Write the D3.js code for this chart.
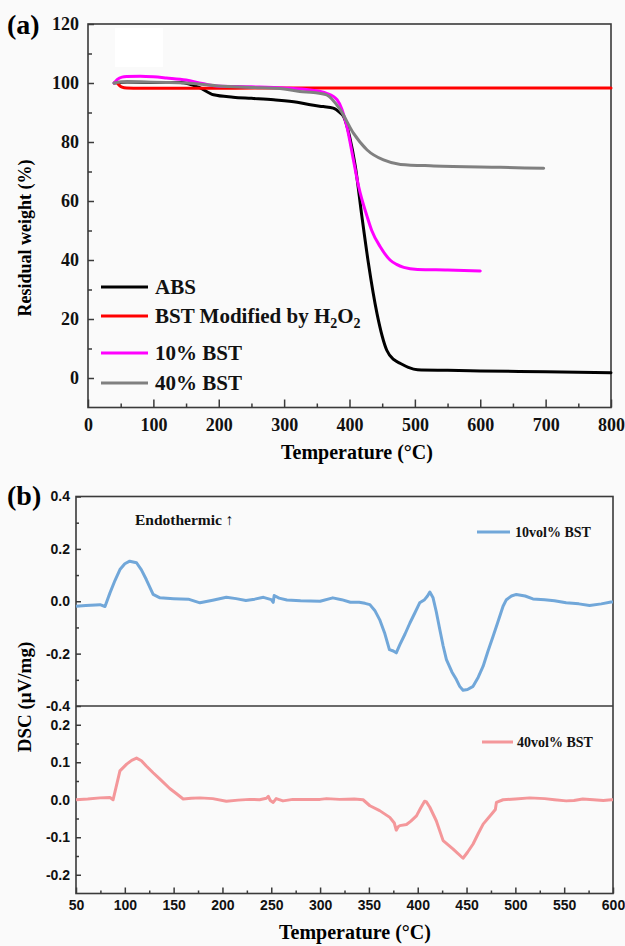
<!DOCTYPE html>
<html>
<head>
<meta charset="utf-8">
<script src="https://cdn.jsdelivr.net/npm/d3@7"></script>
<style>
  html, body { margin: 0; padding: 0; background: #fafafa; }
  svg { display: block; }
  .serif { font-family: "Liberation Serif", "Times New Roman", serif; font-weight: bold; }
  .sans { font-family: "Liberation Sans", Arial, sans-serif; font-weight: bold; }
</style>
</head>
<body>
<svg id="fig" width="625" height="946"></svg>
<script>
// ---------- (a) TGA curves: temperature (°C) vs residual weight (%) ----------
const tgaNames = ["ABS", "BST Modified by H2O2", "10% BST", "40% BST"];
const tgaColors = ["#000000", "#ff0000", "#ff00ff", "#808080"];

const absT = [40, 60, 100, 141, 170, 192, 222, 250, 284, 320, 340, 360, 375, 385, 391, 400, 409, 419, 429, 442, 457, 468, 478, 490, 504, 550, 600, 700, 800];
const absW = [100, 100.3, 100.2, 100.2, 98.5, 96, 95.2, 94.8, 94.3, 93.5, 92.6, 92, 91.5, 90, 88.6, 82, 71.6, 54.7, 38.8, 21.9, 9.4, 6.2, 4.9, 3.6, 2.8, 2.6, 2.4, 2.1, 1.8];

const bstT = [45, 48, 52, 59, 80, 150, 300, 500, 700, 800];
const bstW = [100, 99.2, 98.6, 98.3, 98.2, 98.2, 98.3, 98.3, 98.3, 98.3];

const b10T = [40, 45, 52, 59, 80, 100, 120, 150, 175, 197, 250, 300, 340, 365, 381, 396, 406, 414, 427, 434, 447, 462, 472, 483, 504, 550, 600];
const b10W = [100, 101.2, 102, 102.2, 102.3, 102.1, 101.7, 101, 99.8, 99, 98.7, 98.3, 97.6, 96.5, 94.3, 85.2, 73.9, 64.9, 54.7, 50, 44.5, 40, 38.5, 37.5, 36.8, 36.6, 36.3];

const b40T = [40, 50, 80, 120, 150, 200, 250, 300, 324, 345, 365, 386, 406, 427, 452, 478, 529, 631, 697];
const b40W = [100, 100.3, 100.3, 100.2, 100, 99, 98.5, 98, 97.1, 96.8, 96, 90.9, 83, 77.3, 73.9, 72.4, 71.9, 71.4, 71.1];

const tgaSeries = [
  { t: absT, w: absW },
  { t: bstT, w: bstW },
  { t: b10T, w: b10W },
  { t: b40T, w: b40W }
];

const tgaXTicks = [0, 100, 200, 300, 400, 500, 600, 700, 800];
const tgaYTicks = [0, 20, 40, 60, 80, 100, 120];

// ---------- (b) DSC curves: temperature (°C) vs heat flow (µV/mg) ----------
const dsc10T = [50, 60, 70, 74.6, 79.7, 84.8, 90, 95, 100, 105, 112, 117, 122, 129, 136, 150, 165, 177, 190, 204, 214, 224, 233, 242, 250, 252, 253, 258, 266, 280, 300, 313, 322, 331, 340, 346, 351, 356, 361, 366, 371, 375, 378, 381.7, 387, 392, 397, 402, 407, 410, 412.4, 415.7, 419, 422.6, 426, 429.4, 435, 439.6, 443, 446.4, 451, 456.7, 462, 467, 472, 477.2, 482, 487.4, 490.8, 496, 501, 510, 518, 530, 540, 552, 565, 576, 588, 598, 600];
const dsc10V = [-0.019, -0.016, -0.014, -0.013, -0.02, 0.032, 0.08, 0.121, 0.143, 0.153, 0.147, 0.12, 0.083, 0.026, 0.013, 0.01, 0.008, -0.006, 0.004, 0.015, 0.01, 0.003, 0.008, 0.015, 0.006, -0.004, 0.022, 0.012, 0.005, 0.002, 0.0, 0.013, 0.006, -0.004, -0.004, -0.008, -0.013, -0.035, -0.07, -0.12, -0.185, -0.19, -0.197, -0.166, -0.125, -0.083, -0.045, -0.006, 0.006, 0.02, 0.035, 0.013, -0.04, -0.108, -0.17, -0.223, -0.27, -0.299, -0.325, -0.34, -0.337, -0.325, -0.29, -0.248, -0.19, -0.134, -0.08, -0.019, 0.006, 0.02, 0.026, 0.02, 0.009, 0.006, 0.002, -0.006, -0.01, -0.016, -0.01, -0.003, -0.003];

const dsc40T = [50, 62, 74.6, 84.8, 88, 95, 101.9, 107, 112, 117, 122, 129, 136, 146, 153, 159.8, 168, 177, 190, 204, 216, 228, 238, 245, 247, 249, 252, 255, 262, 272, 285, 300, 306.6, 320, 335, 344, 351, 361, 371.4, 376, 378, 380, 381.7, 388.5, 393, 398.7, 403, 407, 409, 412.4, 419, 426, 436, 446.4, 451, 456.7, 462, 467, 477, 479.5, 480.6, 487.4, 500, 514.7, 530, 540, 552, 560, 569, 580, 590, 598.4, 600];
const dsc40V = [0.0, 0.002, 0.005, 0.006, 0.0, 0.077, 0.095, 0.105, 0.111, 0.104, 0.09, 0.072, 0.055, 0.03, 0.016, 0.002, 0.004, 0.005, 0.003, -0.004, -0.001, 0.001, 0.0, 0.004, 0.009, -0.002, -0.007, 0.003, -0.003, 0.001, 0.001, 0.001, 0.003, 0.001, 0.002, 0.0, -0.016, -0.029, -0.047, -0.062, -0.081, -0.072, -0.069, -0.066, -0.057, -0.043, -0.022, -0.004, -0.006, -0.02, -0.056, -0.109, -0.131, -0.156, -0.14, -0.118, -0.09, -0.065, -0.034, -0.026, -0.007, 0.0, 0.002, 0.005, 0.003, 0.0, -0.003, -0.002, 0.002, 0.0, -0.002, 0.0, 0.0];

const dscNames = ["10vol% BST", "40vol% BST"];
const dscColors = ["#71a7d9", "#f4979a"];
const dscXTicks = [50, 100, 150, 200, 250, 300, 350, 400, 450, 500, 550, 600];
const dsc10YTicks = [-0.4, -0.2, 0.0, 0.2, 0.4];
const dsc40YTicks = [-0.2, -0.1, 0.0, 0.1, 0.2];

// ---------- drawing ----------
const svg = d3.select("#fig");
const frameColor = "#3a3a3a";

// inward tick marks with labels on the outside
function styleAxis(g, fontClass, fontSize) {
  g.selectAll(".domain").remove();
  g.selectAll(".tick line").attr("stroke", frameColor).attr("stroke-width", 1.5);
  g.selectAll(".tick text").attr("class", fontClass).attr("font-size", fontSize).attr("fill", "#111");
}

// ===== Panel (a) =====
const A = { left: 88, right: 611, top: 24, bottom: 407.5 };
const xA = d3.scaleLinear().domain([0, 800]).range([A.left, A.right]);
const yA = d3.scaleLinear().domain([-10, 120]).range([A.bottom, A.top]);

// small bright patch near the top-left of the plot area
svg.append("rect").attr("x", 115).attr("y", 28).attr("width", 48).attr("height", 39).attr("fill", "#ffffff");

// major/minor ticks
const axXA = svg.append("g").attr("transform", `translate(0,${A.bottom})`)
  .call(d3.axisBottom(xA).tickValues(tgaXTicks).tickFormat(d3.format("d")).tickSizeInner(-8).tickSizeOuter(0).tickPadding(11));
styleAxis(axXA, "serif", 18);
const axXAm = svg.append("g").attr("transform", `translate(0,${A.bottom})`)
  .call(d3.axisBottom(xA).tickValues(d3.range(50, 800, 100)).tickFormat("").tickSizeInner(-4).tickSizeOuter(0));
styleAxis(axXAm, "serif", 18);

const axYA = svg.append("g").attr("transform", `translate(${A.left},0)`)
  .call(d3.axisLeft(yA).tickValues(tgaYTicks).tickFormat(d3.format("d")).tickSizeInner(-6).tickSizeOuter(0).tickPadding(9));
styleAxis(axYA, "serif", 18);
const axYAm = svg.append("g").attr("transform", `translate(${A.left},0)`)
  .call(d3.axisLeft(yA).tickValues(d3.range(10, 120, 20)).tickFormat("").tickSizeInner(-4).tickSizeOuter(0));
styleAxis(axYAm, "serif", 18);

svg.append("rect").attr("x", A.left).attr("y", A.top)
  .attr("width", A.right - A.left).attr("height", A.bottom - A.top)
  .attr("fill", "none").attr("stroke", frameColor).attr("stroke-width", 1.6);

const lineA = d3.line().curve(d3.curveMonotoneX);
tgaSeries.forEach((s, i) => {
  const pts = s.t.map((t, j) => [xA(t), yA(s.w[j])]);
  svg.append("path").attr("d", lineA(pts)).attr("fill", "none")
    .attr("stroke", tgaColors[i]).attr("stroke-width", 3).attr("stroke-linejoin", "round").attr("stroke-linecap", "round");
});

// legend (a)
const legYA = [287, 316, 353, 383];
tgaNames.forEach((name, i) => {
  svg.append("line").attr("x1", 101).attr("x2", 148).attr("y1", legYA[i]).attr("y2", legYA[i])
    .attr("stroke", tgaColors[i]).attr("stroke-width", 3);
  const t = svg.append("text").attr("class", "serif").attr("font-size", 21).attr("fill", "#111")
    .attr("x", 155).attr("y", legYA[i]).attr("dy", "0.35em");
  if (name === "BST Modified by H2O2") {
    t.append("tspan").text("BST Modified by H");
    t.append("tspan").attr("font-size", 14).attr("dy", 5).text("2");
    t.append("tspan").attr("dy", -5).text("O");
    t.append("tspan").attr("font-size", 14).attr("dy", 5).text("2");
  } else {
    t.text(name);
  }
});

svg.append("text").attr("class", "serif").attr("font-size", 28).attr("x", 7).attr("y", 34).text("(a)");
svg.append("text").attr("class", "serif").attr("font-size", 18)
  .attr("transform", "translate(31,238) rotate(-90)").attr("text-anchor", "middle").text("Residual weight (%)");
svg.append("text").attr("class", "serif").attr("font-size", 20)
  .attr("x", 357).attr("y", 459).attr("text-anchor", "middle").text("Temperature (°C)");

// ===== Panel (b) =====
const B = { left: 76, right: 613, top: 496.5, mid: 706, bottom: 893.5 };
const xB = d3.scaleLinear().domain([50, 600]).range([B.left, B.right]);
const yB1 = d3.scaleLinear().domain([-0.4, 0.4]).range([B.mid, B.top]);
const yB2 = d3.scaleLinear().domain([-0.25, 0.25]).range([B.bottom, B.mid]);
const fmt1 = d => d3.format(".1f")(d).replace("−", "-");

const axXB = svg.append("g").attr("transform", `translate(0,${B.bottom})`)
  .call(d3.axisBottom(xB).tickValues(dscXTicks).tickFormat(d3.format("d")).tickSizeInner(-6).tickSizeOuter(0).tickPadding(7));
styleAxis(axXB, "sans", 14);
const axXBm = svg.append("g").attr("transform", `translate(0,${B.bottom})`)
  .call(d3.axisBottom(xB).tickValues(d3.range(75, 600, 50)).tickFormat("").tickSizeInner(-3).tickSizeOuter(0));
styleAxis(axXBm, "sans", 14);

const axYB1 = svg.append("g").attr("transform", `translate(${B.left},0)`)
  .call(d3.axisLeft(yB1).tickValues(dsc10YTicks).tickFormat(fmt1).tickSizeInner(-5).tickSizeOuter(0).tickPadding(6));
styleAxis(axYB1, "sans", 14);
const axYB1m = svg.append("g").attr("transform", `translate(${B.left},0)`)
  .call(d3.axisLeft(yB1).tickValues([-0.3, -0.1, 0.1, 0.3]).tickFormat("").tickSizeInner(-3).tickSizeOuter(0));
styleAxis(axYB1m, "sans", 14);

const axYB2 = svg.append("g").attr("transform", `translate(${B.left},0)`)
  .call(d3.axisLeft(yB2).tickValues(dsc40YTicks).tickFormat(fmt1).tickSizeInner(-5).tickSizeOuter(0).tickPadding(6));
styleAxis(axYB2, "sans", 14);
const axYB2m = svg.append("g").attr("transform", `translate(${B.left},0)`)
  .call(d3.axisLeft(yB2).tickValues([-0.15, -0.05, 0.05, 0.15]).tickFormat("").tickSizeInner(-3).tickSizeOuter(0));
styleAxis(axYB2m, "sans", 14);

svg.append("rect").attr("x", B.left).attr("y", B.top)
  .attr("width", B.right - B.left).attr("height", B.bottom - B.top)
  .attr("fill", "none").attr("stroke", frameColor).attr("stroke-width", 1.6);
svg.append("line").attr("x1", B.left).attr("x2", B.right).attr("y1", B.mid).attr("y2", B.mid)
  .attr("stroke", frameColor).attr("stroke-width", 1.6);

const lineB = d3.line();
svg.append("path").attr("d", lineB(dsc10T.map((t, j) => [xB(t), yB1(dsc10V[j])])))
  .attr("fill", "none").attr("stroke", dscColors[0]).attr("stroke-width", 3).attr("stroke-linejoin", "round");
svg.append("path").attr("d", lineB(dsc40T.map((t, j) => [xB(t), yB2(dsc40V[j])])))
  .attr("fill", "none").attr("stroke", dscColors[1]).attr("stroke-width", 3).attr("stroke-linejoin", "round");

// legends (b)
const legB = [{ x1: 477, x2: 510, y: 532, tx: 515 }, { x1: 482, x2: 513, y: 742, tx: 517 }];
dscNames.forEach((name, i) => {
  svg.append("line").attr("x1", legB[i].x1).attr("x2", legB[i].x2).attr("y1", legB[i].y).attr("y2", legB[i].y)
    .attr("stroke", dscColors[i]).attr("stroke-width", 3);
  svg.append("text").attr("class", "serif").attr("font-size", 14).attr("fill", "#111")
    .attr("x", legB[i].tx).attr("y", legB[i].y).attr("dy", "0.35em").text(name);
});

svg.append("text").attr("class", "serif").attr("font-size", 15.5).attr("fill", "#111")
  .attr("x", 135).attr("y", 520).attr("dy", "0.35em").text("Endothermic ↑");

svg.append("text").attr("class", "serif").attr("font-size", 28).attr("x", 7).attr("y", 505).text("(b)");
svg.append("text").attr("class", "serif").attr("font-size", 19)
  .attr("transform", "translate(31,697) rotate(-90)").attr("text-anchor", "middle").text("DSC (μV/mg)");
svg.append("text").attr("class", "serif").attr("font-size", 20)
  .attr("x", 355).attr("y", 939).attr("text-anchor", "middle").text("Temperature (°C)");
</script>
</body>
</html>
